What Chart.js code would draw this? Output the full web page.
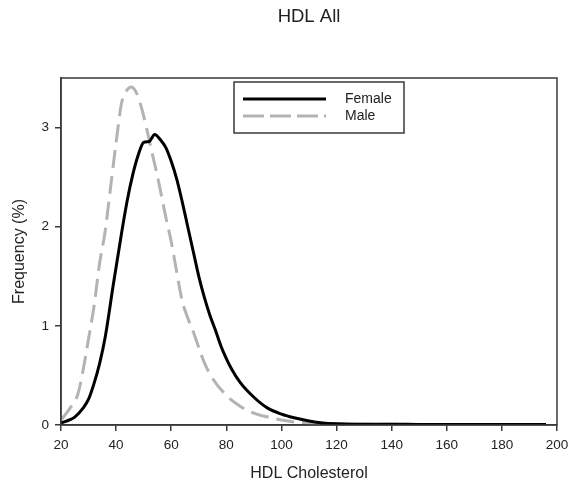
<!DOCTYPE html>
<html>
<head>
<meta charset="utf-8">
<script src="https://cdn.jsdelivr.net/npm/chart.js@4/dist/chart.umd.min.js"></script>
<style>
  html,body{margin:0;padding:0;background:#fff;}
  #wrap{width:578px;height:485px;}
</style>
</head>
<body>
<div id="wrap"><canvas id="hdl"></canvas></div>
<script>

/* ===== data ===== */

const femaleX = [20,22,25,28,30,32,34,36,39,42,44,46,48,50,52,54,56,58,60,62,64,66,68,70,72,74,76,78,80,82,85,90,95,100,105,110,115,120,130,140,150,160,170,180,196];
const femaleY = [0.02,0.04,0.08,0.17,0.26,0.42,0.62,0.88,1.42,1.94,2.26,2.52,2.72,2.85,2.86,2.93,2.88,2.8,2.66,2.48,2.25,2.0,1.75,1.5,1.29,1.11,0.96,0.8,0.67,0.56,0.43,0.28,0.17,0.11,0.07,0.04,0.02,0.012,0.008,0.007,0.006,0.005,0.005,0.005,0.005];

const maleX = [20,22,24,26,28,30,32,34,36,38,40,42,44,45.5,47,49,51,53,55,58,60,62,64,66,68,70,72,75,80,85,90,95,100,105,110,120,130,140,150,162];
const maleY = [0.05,0.12,0.2,0.3,0.55,0.87,1.2,1.63,1.95,2.4,2.85,3.25,3.38,3.41,3.37,3.22,3.0,2.75,2.51,2.1,1.85,1.54,1.25,1.08,0.94,0.78,0.63,0.47,0.3,0.19,0.12,0.08,0.05,0.03,0.02,0.01,0.008,0.007,0.006,0.005];

const seriesNames = ['Female','Male'];
const chartTitle = 'HDL All';
const xTitle = 'HDL Cholesterol';
const yTitle = 'Frequency (%)';

const FONT = "'Liberation Sans', Arial, sans-serif";
const AXIS = '#3a3a3a';

function toPoints(xs,ys){
  return xs.map((x,i)=>({x:x,y:ys[i]}));
}

/* ===== plugins: title, frame, legend box ===== */

const titlePlugin = {
  id:'topTitle',
  afterDraw(chart){
    const ctx = chart.ctx;
    ctx.save();
    ctx.font = '18.5px ' + FONT;
    ctx.fillStyle = '#222';
    ctx.textAlign = 'center';
    ctx.textBaseline = 'middle';
    ctx.fillText(chartTitle, 309, 17);
    ctx.restore();
  }
};

const framePlugin = {
  id:'frame',
  afterDraw(chart){
    const a = chart.chartArea;
    const ctx = chart.ctx;
    ctx.save();
    ctx.strokeStyle = AXIS;
    ctx.lineWidth = 1.5;
    ctx.strokeRect(a.left, a.top, a.right-a.left, a.bottom-a.top);
    ctx.restore();
  }
};

const legendPlugin = {
  id:'boxLegend',
  afterDraw(chart){
    const ctx = chart.ctx;
    const bx = 234, by = 82, bw = 170, bh = 51;
    ctx.save();
    ctx.fillStyle = '#fff';
    ctx.fillRect(bx,by,bw,bh);
    ctx.strokeStyle = AXIS;
    ctx.lineWidth = 1.5;
    ctx.strokeRect(bx,by,bw,bh);

    const rows = [99,116];
    chart.data.datasets.forEach((ds,i)=>{
      const y = rows[i];
      ctx.strokeStyle = ds.borderColor;
      ctx.lineWidth = ds.borderWidth;
      ctx.setLineDash(i ? [21,6] : []);
      ctx.beginPath();
      ctx.moveTo(243,y);
      ctx.lineTo(326,y);
      ctx.stroke();
      ctx.setLineDash([]);
      ctx.fillStyle = '#222';
      ctx.font = '14px ' + FONT;
      ctx.textAlign = 'left';
      ctx.textBaseline = 'middle';
      ctx.fillText(ds.label, 345, y);
    });
    ctx.restore();
  }
};

/* ===== chart ===== */

new Chart(document.getElementById('hdl'),{

  type:'line',

  data:{
    datasets:[
      {
        label:seriesNames[0],
        data:toPoints(femaleX,femaleY),
        borderColor:'#000000',
        borderWidth:3,
        pointRadius:0,
        cubicInterpolationMode:'monotone',
        fill:false
      },
      {
        label:seriesNames[1],
        data:toPoints(maleX,maleY),
        borderColor:'#b3b3b3',
        borderWidth:3,
        borderDash:[18,8],
        pointRadius:0,
        cubicInterpolationMode:'monotone',
        fill:false
      }
    ]
  },

  options:{
    responsive:true,
    maintainAspectRatio:false,
    animation:false,
    layout:{padding:{top:78,right:21,left:0,bottom:0}},
    plugins:{
      legend:{display:false},
      tooltip:{enabled:false},
      title:{display:false}
    },
    scales:{
      x:{
        type:'linear',
        min:20,
        max:200,
        afterFit(s){ s.height = 60; },
        ticks:{stepSize:20,color:'#222',padding:6,font:{family:FONT,size:13.5}},
        grid:{drawOnChartArea:false,drawTicks:true,tickLength:6,color:AXIS,lineWidth:1.5},
        border:{color:AXIS,width:1.5},
        title:{display:true,text:xTitle,color:'#222',font:{family:FONT,size:16},padding:{top:0,bottom:2}}
      },
      y:{
        type:'linear',
        min:0,
        max:3.5,
        afterFit(s){ s.width = 61; },
        afterBuildTicks(s){ s.ticks = s.ticks.filter(t=>Number.isInteger(t.value)); },
        ticks:{stepSize:1,color:'#222',padding:6,font:{family:FONT,size:13.5}},
        grid:{drawOnChartArea:false,drawTicks:true,tickLength:6,color:AXIS,lineWidth:1.5},
        border:{color:AXIS,width:1.5},
        title:{display:true,text:yTitle,color:'#222',font:{family:FONT,size:16},padding:{top:10,bottom:0}}
      }
    }
  },

  plugins:[framePlugin,legendPlugin,titlePlugin]

});

</script>
</body>
</html>
